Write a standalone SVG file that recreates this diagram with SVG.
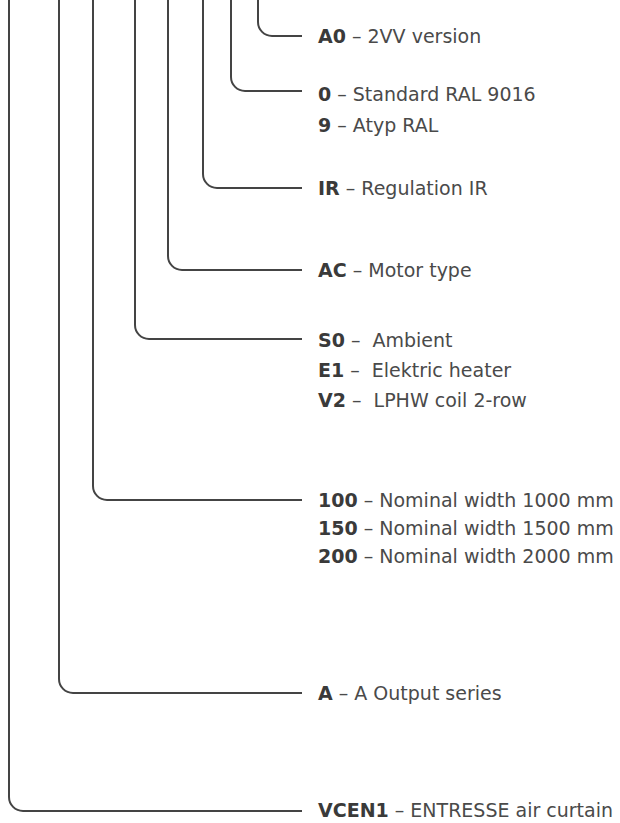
<svg xmlns="http://www.w3.org/2000/svg" width="620" height="823" viewBox="0 0 620 823">
<style>
.c{fill:none;stroke:#444;stroke-width:2;}
text{font-family:"DejaVu Sans",Verdana,sans-serif;font-size:19px;fill:#4a4a4a;}
.b{font-weight:bold;fill:#3a3a3a;}
</style>
<rect width="620" height="823" fill="#fff"/>
<g id="connectors">
<path class="c" d="M258 0 V22 A14 14 0 0 0 272 36 H302"/>
<path class="c" d="M231 0 V77 A14 14 0 0 0 245 91 H302"/>
<path class="c" d="M203 0 V174 A14 14 0 0 0 217 188 H302"/>
<path class="c" d="M168 0 V256 A14 14 0 0 0 182 270 H302"/>
<path class="c" d="M135 0 V325 A14 14 0 0 0 149 339 H302"/>
<path class="c" d="M93 0 V486 A14 14 0 0 0 107 500 H302"/>
<path class="c" d="M59 0 V679 A14 14 0 0 0 73 693 H302"/>
<path class="c" d="M9 0 V797 A14 14 0 0 0 23 811 H302"/>
</g>
<g id="version">
<text x="318" y="43" xml:space="preserve"><tspan class="b">A0</tspan> – 2VV version</text>
</g>
<g id="colour">
<text x="318" y="101" xml:space="preserve"><tspan class="b">0</tspan> – Standard RAL 9016</text>
<text x="318" y="132" xml:space="preserve"><tspan class="b">9</tspan> – Atyp RAL</text>
</g>
<g id="regulation">
<text x="318" y="195" xml:space="preserve"><tspan class="b">IR</tspan> – Regulation IR</text>
</g>
<g id="motor">
<text x="318" y="277" xml:space="preserve"><tspan class="b">AC</tspan> – Motor type</text>
</g>
<g id="heating">
<text x="318" y="347" xml:space="preserve"><tspan class="b">S0</tspan> –  Ambient</text>
<text x="318" y="377" xml:space="preserve"><tspan class="b">E1</tspan> –  Elektric heater</text>
<text x="318" y="407" xml:space="preserve"><tspan class="b">V2</tspan> –  LPHW coil 2-row</text>
</g>
<g id="width">
<text x="318" y="507" xml:space="preserve"><tspan class="b">100</tspan> – Nominal width 1000 mm</text>
<text x="318" y="535" xml:space="preserve"><tspan class="b">150</tspan> – Nominal width 1500 mm</text>
<text x="318" y="563" xml:space="preserve"><tspan class="b">200</tspan> – Nominal width 2000 mm</text>
</g>
<g id="series">
<text x="318" y="700" xml:space="preserve"><tspan class="b">A</tspan> – A Output series</text>
</g>
<g id="product">
<text x="318" y="817" xml:space="preserve"><tspan class="b">VCEN1</tspan> – ENTRESSE air curtain</text>
</g>
</svg>
